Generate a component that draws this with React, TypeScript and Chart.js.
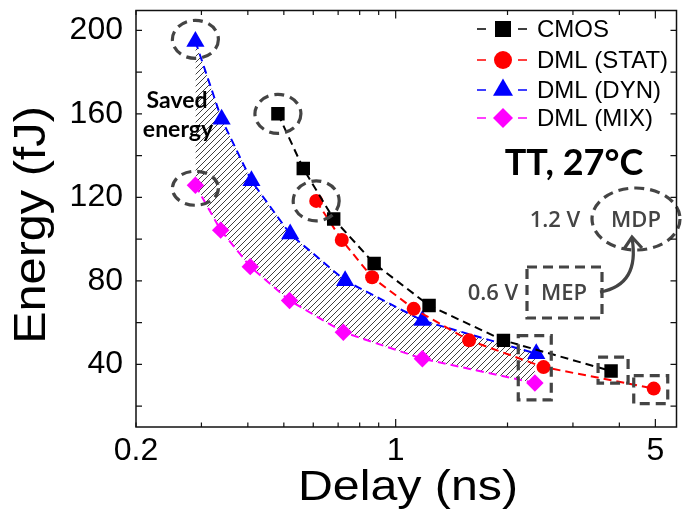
import React, { useEffect, useRef } from 'react';
import { Chart, registerables } from 'chart.js';

Chart.register(...registerables);

// ---- data ----
const cmosX = [0.482, 0.564, 0.681, 0.875, 1.23, 1.95, 3.8];
const cmosY = [160, 133.8, 109.6, 88.3, 68.2, 51.5, 36.8];
const statX = [0.611, 0.716, 0.864, 1.118, 1.577, 2.5, 4.95];
const statY = [118.3, 99.6, 81.7, 66.6, 51.5, 38.7, 28.4];
const dynX = [0.289, 0.34, 0.409, 0.52, 0.731, 1.18, 2.39];
const dynY = [194.7, 157.4, 127.9, 102.4, 80.1, 61.0, 45.1];
const mixX = [0.289, 0.338, 0.406, 0.518, 0.723, 1.18, 2.37];
const mixY = [125.8, 104.3, 86.8, 70.6, 55.4, 42.7, 31.1];

const seriesLabels = ['CMOS', 'DML (STAT)', 'DML (DYN)', 'DML (MIX)'];
const seriesColors = ['#000000', '#ff0000', '#0000ff', '#ff00ff'];
const seriesStyles = ['rect', 'circle', 'triangle', 'rectRot'];

const xTickValues = [0.2, 0.3, 0.4, 0.5, 0.6, 0.7, 0.8, 0.9, 1, 2, 3, 4, 5];
const xTickLabels = [0.2, 1, 5];
const xMajorTicks = [1, 5];
const yTickValues = [20, 40, 60, 80, 100, 120, 140, 160, 180, 200];
const yTickLabels = [40, 80, 120, 160, 200];

const xTitle = 'Delay (ns)';
const yTitle = 'Energy (fJ)';

const mk = (xs: number[], ys: number[]) => xs.map((x, i) => ({ x, y: ys[i] }));

function makeHatch(): CanvasPattern | string {
  const s = 6;
  const c = document.createElement('canvas');
  c.width = s;
  c.height = s;
  const g = c.getContext('2d');
  if (!g) return 'rgba(0,0,0,0.3)';
  g.strokeStyle = '#2a2a2a';
  g.lineWidth = 0.9;
  g.beginPath();
  g.moveTo(-1, s + 1);
  g.lineTo(s + 1, -1);
  g.moveTo(-1, 1);
  g.lineTo(1, -1);
  g.moveTo(s - 1, s + 1);
  g.lineTo(s + 1, s - 1);
  g.stroke();
  return g.createPattern(c, 'repeat') || 'rgba(0,0,0,0.3)';
}

function drawMarker(ctx: CanvasRenderingContext2D, style: string, x: number, y: number, size: number, color: string) {
  ctx.save();
  ctx.fillStyle = color;
  ctx.beginPath();
  if (style === 'rect') {
    ctx.rect(x - size / 2, y - size / 2, size, size);
  } else if (style === 'circle') {
    ctx.arc(x, y, size / 2, 0, Math.PI * 2);
  } else if (style === 'triangle') {
    const r = size / Math.sqrt(3);
    ctx.moveTo(x, y - r);
    ctx.lineTo(x + size / 2, y + r / 2);
    ctx.lineTo(x - size / 2, y + r / 2);
    ctx.closePath();
  } else {
    ctx.moveTo(x, y - size / 2);
    ctx.lineTo(x + size / 2, y);
    ctx.lineTo(x, y + size / 2);
    ctx.lineTo(x - size / 2, y);
    ctx.closePath();
  }
  ctx.fill();
  ctx.restore();
}

export default function App() {
  const ref = useRef<HTMLCanvasElement>(null);

  useEffect(() => {
    document.body.style.margin = '0';
    const canvas = ref.current;
    if (!canvas) return;
    const hatch = makeHatch();
    const GREY = '#444444';

    const annot = {
      id: 'annot',
      afterDatasetsDraw(chart: any) {
        const ctx: CanvasRenderingContext2D = chart.ctx;
        const xs = chart.scales.x;
        const ys = chart.scales.y;
        const P = (x: number, y: number) => [xs.getPixelForValue(x), ys.getPixelForValue(y)];
        ctx.save();
        ctx.strokeStyle = GREY;
        ctx.lineWidth = 3.2;
        ctx.setLineDash([10, 6]);

        const ell = (cx: number, cy: number, rx: number, ry: number) => {
          ctx.beginPath();
          ctx.ellipse(cx, cy, rx, ry, 0, 0, Math.PI * 2);
          ctx.stroke();
        };
        const rect = (x0: number, y0: number, x1: number, y1: number) => {
          ctx.beginPath();
          ctx.rect(x0, y0, x1 - x0, y1 - y0);
          ctx.stroke();
        };

        // ellipses around the 1.2 V points (MDP)
        let [a, b] = P(dynX[0], dynY[0]);
        ell(a, b - 2, 23, 19);
        [a, b] = P(mixX[0], mixY[0]);
        ell(a, b + 3, 23, 17);
        [a, b] = P(cmosX[0], cmosY[0]);
        ell(a, b, 23, 19.5);
        [a, b] = P(statX[0], statY[0]);
        ell(a, b, 23, 20);

        // rectangles around the 0.6 V points (MEP)
        const [dx, dy] = P(dynX[6], dynY[6]);
        const [, my] = P(mixX[6], mixY[6]);
        rect(dx - 18, dy - 18, dx + 15, my + 17);
        [a, b] = P(cmosX[6], cmosY[6]);
        rect(a - 13, b - 14, a + 17, b + 12);
        [a, b] = P(statX[6], statY[6]);
        rect(a - 20, b - 13, a + 14, b + 15);

        // MDP / MEP key
        ell(636, 219, 44, 31);
        rect(527, 267, 602, 318);
        ctx.setLineDash([]);
        ctx.beginPath();
        ctx.moveTo(600, 292);
        ctx.quadraticCurveTo(640, 285, 632, 238);
        ctx.stroke();
        ctx.beginPath();
        ctx.moveTo(624, 249);
        ctx.lineTo(632, 237);
        ctx.lineTo(642, 248);
        ctx.stroke();

        ctx.fillStyle = GREY;
        ctx.font = '600 22px "Open Sans", Lato, sans-serif';
        ctx.textAlign = 'center';
        ctx.textBaseline = 'middle';
        ctx.fillText('MDP', 636, 221);
        ctx.fillText('1.2 V', 555, 221);
        ctx.fillText('MEP', 564, 294);
        ctx.fillText('0.6 V', 493, 294);

        // texts
        ctx.fillStyle = '#000';
        ctx.font = 'bold 23px Lato, "Open Sans", sans-serif';
        ctx.textBaseline = 'alphabetic';
        ctx.fillText('Saved', 177, 108);
        ctx.fillText('energy', 178, 137);
        ctx.font = 'bold 36px Lato, "Open Sans", sans-serif';
        ctx.fillText('TT, 27°C', 574, 175);

        // legend
        const rowY = [29, 60, 90, 118];
        const sizes = [16, 18, 20, 20];
        ctx.lineWidth = 1.5;
        ctx.font = '24px "Liberation Sans", Arial, sans-serif';
        ctx.textAlign = 'left';
        ctx.textBaseline = 'middle';
        for (let i = 0; i < 4; i++) {
          ctx.strokeStyle = seriesColors[i];
          ctx.beginPath();
          ctx.moveTo(477, rowY[i]);
          ctx.lineTo(486, rowY[i]);
          ctx.moveTo(518, rowY[i]);
          ctx.lineTo(527, rowY[i]);
          ctx.stroke();
          drawMarker(ctx, seriesStyles[i], 503, rowY[i], sizes[i], seriesColors[i]);
          ctx.fillStyle = '#000';
          ctx.fillText(seriesLabels[i], 537, rowY[i] + 1);
        }
        ctx.restore();
      },
      afterDraw(chart: any) {
        const ctx: CanvasRenderingContext2D = chart.ctx;
        const { left, right, top, bottom } = chart.chartArea;
        const xs = chart.scales.x;
        const ys = chart.scales.y;
        ctx.save();
        ctx.strokeStyle = '#111';
        ctx.lineWidth = 1.5;
        ctx.setLineDash([]);
        ctx.strokeRect(left, top, right - left, bottom - top);
        ctx.lineWidth = 1.2;
        ctx.beginPath();
        for (const v of xTickValues) {
          const px = xs.getPixelForValue(v);
          const len = xMajorTicks.includes(v) ? 8 : 4.5;
          ctx.moveTo(px, bottom);
          ctx.lineTo(px, bottom - len);
          ctx.moveTo(px, top);
          ctx.lineTo(px, top + len);
        }
        for (const v of yTickValues) {
          const py = ys.getPixelForValue(v);
          ctx.moveTo(left, py);
          ctx.lineTo(left + 6, py);
          ctx.moveTo(right, py);
          ctx.lineTo(right - 6, py);
        }
        ctx.stroke();

        // axis titles
        ctx.fillStyle = '#000';
        ctx.font = '42px "Liberation Sans", Arial, sans-serif';
        ctx.textAlign = 'center';
        ctx.textBaseline = 'alphabetic';
        ctx.save();
        ctx.translate(408, 500);
        ctx.scale(1.15, 1);
        ctx.fillText(xTitle, 0, 0);
        ctx.restore();
        ctx.save();
        ctx.font = '45px "Liberation Sans", Arial, sans-serif';
        ctx.translate(45, 225);
        ctx.rotate(-Math.PI / 2);
        ctx.scale(1.08, 1);
        ctx.fillText(yTitle, 0, 0);
        ctx.restore();
        ctx.restore();
      },
    };

    const base = (i: number) => ({
      label: seriesLabels[i],
      borderColor: seriesColors[i],
      borderWidth: 2,
      borderDash: [8, 5],
      pointStyle: seriesStyles[i],
      pointBackgroundColor: seriesColors[i],
      pointBorderColor: seriesColors[i],
      pointBorderWidth: 0,
      tension: 0,
    });

    const chart = new Chart(canvas, {
      type: 'line',
      data: {
        datasets: [
          { ...base(0), data: mk(cmosX, cmosY), pointRadius: 9.5, fill: false },
          { ...base(1), data: mk(statX, statY), pointRadius: 7, fill: false },
          { ...base(2), data: mk(dynX, dynY), pointRadius: 10.5, fill: false },
          { ...base(3), data: mk(mixX, mixY), pointRadius: 8.7, fill: '-1', backgroundColor: hatch },
        ] as any,
      },
      options: {
        animation: false,
        responsive: false,
        devicePixelRatio: 1,
        layout: { padding: { top: 9, right: 1, left: 0, bottom: 0 } },
        plugins: { legend: { display: false }, tooltip: { enabled: false } },
        scales: {
          x: {
            type: 'logarithmic',
            min: 0.2,
            max: 5.7,
            grid: { display: false, drawTicks: false },
            border: { display: false },
            afterBuildTicks: (s: any) => {
              s.ticks = xTickValues.map((v) => ({ value: v }));
            },
            afterFit: (s: any) => {
              s.height = 92;
              s.paddingLeft = 0;
              s.paddingRight = 0;
              s.paddingTop = 0;
              s.paddingBottom = 0;
            },
            ticks: {
              autoSkip: false,
              maxRotation: 0,
              minRotation: 0,
              padding: 5,
              color: '#000',
              font: { family: '"Liberation Sans", Arial, sans-serif', size: 32 },
              callback: (v: any) => (xTickLabels.includes(Number(v)) ? String(v) : ''),
            },
          },
          y: {
            type: 'linear',
            min: 10,
            max: 209.5,
            grid: { display: false, drawTicks: false },
            border: { display: false },
            afterBuildTicks: (s: any) => {
              s.ticks = yTickValues.map((v) => ({ value: v }));
            },
            afterFit: (s: any) => {
              s.width = 136;
              s.paddingLeft = 0;
              s.paddingRight = 0;
              s.paddingTop = 0;
              s.paddingBottom = 0;
            },
            ticks: {
              autoSkip: false,
              padding: 13,
              color: '#000',
              font: { family: '"Liberation Sans", Arial, sans-serif', size: 32 },
              callback: (v: any) => (yTickLabels.includes(Number(v)) ? String(v) : ''),
            },
          },
        },
      } as any,
      plugins: [annot],
    });

    return () => chart.destroy();
  }, []);

  return (
    <canvas
      ref={ref}
      width={687}
      height={519}
      style={{ display: 'block', width: 687, height: 519 }}
    />
  );
}
